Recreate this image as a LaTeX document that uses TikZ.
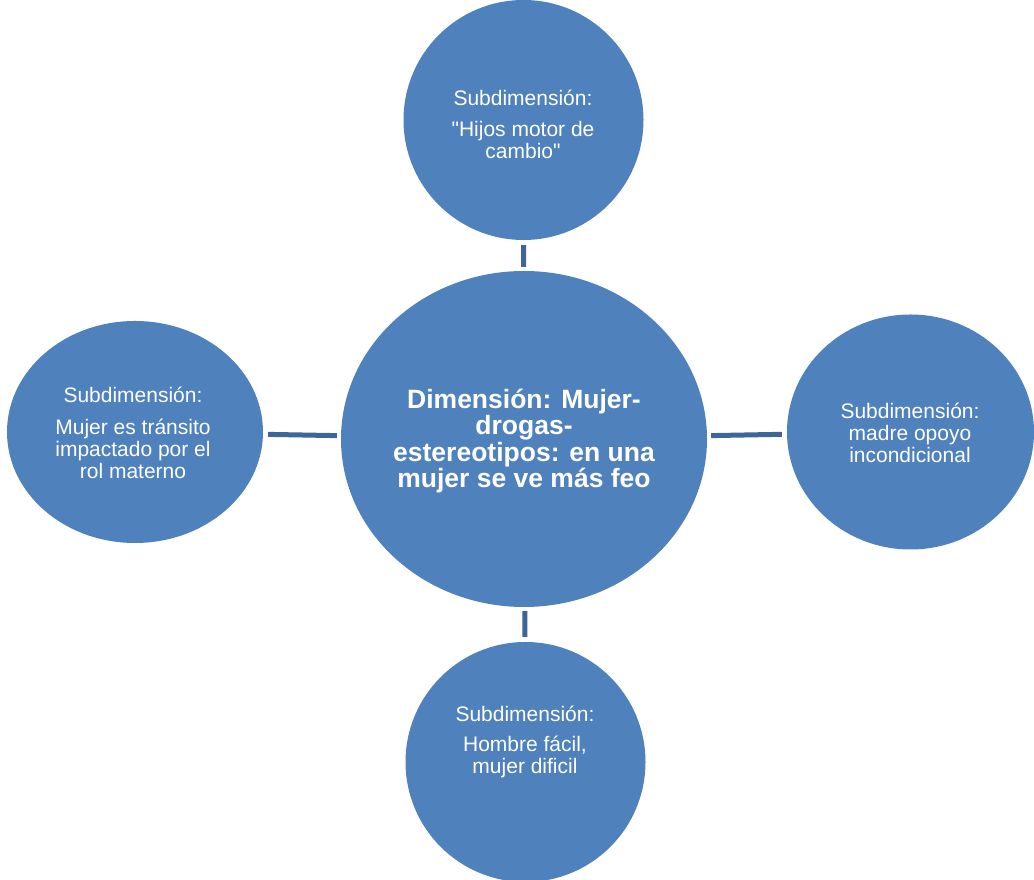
\documentclass[tikz,border=0pt]{standalone}
\usepackage{fontspec}
\setmainfont{Liberation Sans}[Ligatures=TeXOff]
\usetikzlibrary{shapes.geometric}
\definecolor{bubble}{HTML}{4F81BD}
\definecolor{link}{HTML}{3C6698}
\tikzset{
  bubble/.style={ellipse, fill=bubble, inner sep=0pt},
  subtext/.style={text=white, align=center, font=\fontsize{21}{22}\selectfont},
  maintext/.style={text=white, align=center, font=\bfseries\fontsize{26.5}{26.5}\selectfont},
  linkline/.style={draw=link, line width=5pt, shorten <=4pt, shorten >=5pt}
}
\begin{document}
\begin{tikzpicture}[x=1pt,y=1pt]
\useasboundingbox (0,0) rectangle (1034,880);
\node[bubble, minimum width=366, minimum height=336] (C) at (524,441) {};
\node[bubble, minimum width=240, minimum height=240] (T) at (523.5,760) {};
\node[bubble, minimum width=256, minimum height=222] (L) at (135,448) {};
\node[bubble, minimum width=247, minimum height=235] (R) at (910.5,448) {};
\node[bubble, minimum width=240, minimum height=240] (B) at (525.5,118) {};
\draw[linkline] (C) -- (T);
\draw[linkline] (C) -- (L);
\draw[linkline] (C) -- (R);
\draw[linkline] (C) -- (B);
\node[maintext] (Ct) at (524,439) {Dimensión: Mujer-\\drogas-\\estereotipos: en una\\mujer se ve más feo};
\node[subtext] (Tt) at (523,756) {Subdimensión:\\[9pt]"Hijos motor de\\cambio"};
\node[subtext] (Lt) at (133,447) {Subdimensión:\\[10pt]Mujer es tránsito\\impactado por el\\rol materno};
\node[subtext] (Rt) at (910,447) {Subdimensión:\\madre opoyo\\incondicional};
\node[subtext] (Bt) at (525,138) {Subdimensión:\\[8pt]Hombre fácil,\\mujer dificil};
\end{tikzpicture}
\end{document}
